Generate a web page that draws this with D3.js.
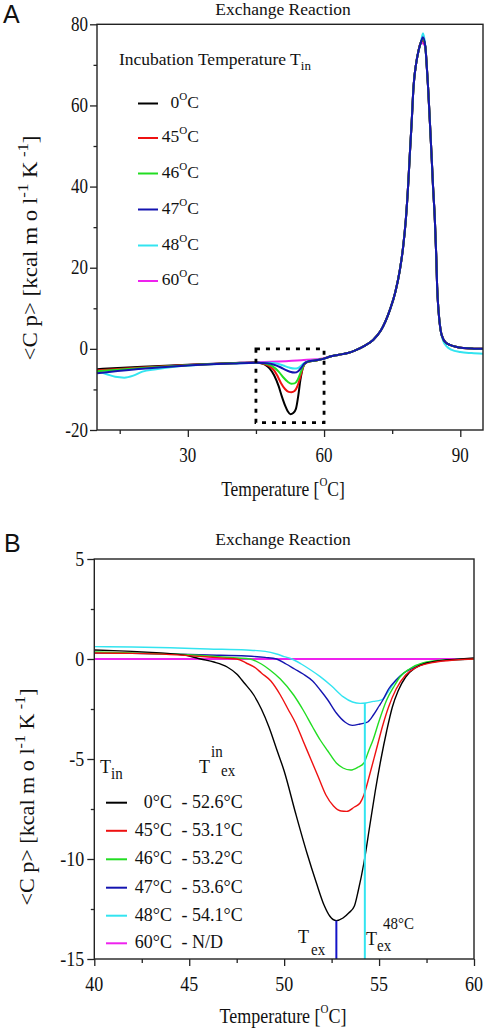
<!DOCTYPE html>
<html><head><meta charset="utf-8">
<script src="https://cdn.jsdelivr.net/npm/d3@7"></script>
<style>html,body{margin:0;padding:0;background:#fff;}svg{display:block;}</style>
</head><body>
<svg id="c" width="485" height="1030"></svg>
<script>
// ---------- DATA ----------
const seriesNames = ["0°C", "45°C", "46°C", "47°C", "48°C", "60°C"];
const seriesColors = ["#000000", "#ee1111", "#22dd22", "#1414b0", "#33e4f0", "#ee22ee"];
const texValues = ["- 52.6°C", "- 53.1°C", "- 53.2°C", "- 53.6°C", "- 54.1°C", "- N/D"];

// Panel A  (x: temperature °C, y: <Cp>)
const aLow = {
  black:   [[10,-5.0],[20,-4.4],[30,-3.9],[40,-3.5],[45,-3.35]],
  red:     [[10,-5.3],[20,-4.6],[30,-4.0],[40,-3.55],[45,-3.4]],
  green:   [[10,-5.5],[20,-4.7],[30,-4.05],[40,-3.55],[45,-3.4]],
  blue:    [[10,-6.0],[20,-4.9],[30,-4.1],[40,-3.6],[45,-3.4]],
  cyan:    [[10,-5.6],[12,-6.2],[14,-6.9],[16,-7.1],[18,-6.6],[20,-5.6],[23,-5.0],[30,-4.1],[40,-3.6],[45,-3.4]],
  magenta: [[10,-5.3],[20,-4.7],[30,-4.0],[40,-3.5],[45,-3.3]]
};
const aDip = {
  black:   [[46,-3.5],[47,-3.9],[48,-4.8],[49,-6.5],[50,-9.2],[50.7,-11.7],[51.5,-14.2],[52,-15.4],[52.6,-16.1],[53.2,-15.8],[53.8,-14.8],[54.3,-11.7],[54.8,-7.6],[55.4,-4.4],[56,-3.4],[57,-3.05],[58.5,-2.8],[60,-2.4]],
  red:     [[46.5,-3.6],[48,-4.3],[49,-5.3],[49.6,-6.4],[50.5,-8.4],[51.4,-9.9],[52.2,-10.6],[52.8,-10.7],[53.5,-10.4],[54.2,-9.0],[54.8,-6.8],[55.4,-4.5],[56,-3.4],[57,-3.05],[58.5,-2.8],[60,-2.4]],
  green:   [[47,-3.6],[48.5,-4.2],[50,-5.6],[51,-7.0],[52,-8.1],[52.8,-8.6],[53.5,-8.5],[54.2,-7.6],[54.8,-6.0],[55.4,-4.3],[56,-3.35],[57,-3.05],[58.5,-2.8],[60,-2.4]],
  blue:    [[47.5,-3.55],[49,-3.9],[50.5,-4.6],[51.5,-5.2],[52.5,-5.65],[53.5,-5.85],[54.3,-5.5],[55,-4.6],[55.6,-3.7],[56.3,-3.2],[57.3,-2.95],[58.5,-2.75],[60,-2.4]],
  cyan:    [[48,-3.4],[49.5,-3.6],[51,-4.1],[52.3,-4.6],[53.5,-4.85],[54.3,-4.7],[55,-4.1],[55.7,-3.4],[56.5,-3.05],[57.5,-2.9],[58.5,-2.7],[60,-2.4]],
  magenta: [[50,-3.1],[55,-2.8],[60,-2.3]]
};
const aRise = [[61.3,-1.9],[63,-1.5],[65,-1.1],[67,-0.3],[69,0.8],[70.8,2.2],[72.5,4.5],[74.5,9.6],[75.7,14],[76.7,19.5],[77.4,25],[78,31.8],[78.5,40],[78.9,48.2],[79.3,56],[79.7,64.6],[80.3,70.5],[80.8,73.5],[81.3,75.5]];
const aPeak = { black: 76.3, red: 76.0, green: 76.5, blue: 76.8, cyan: 77.8, magenta: 75.3 };
const aFall = [[82.3,74.5],[82.6,70],[82.9,64.6],[83.3,56],[83.65,48.2],[84,40],[84.4,31.8],[84.7,23],[84.9,15.4],[85.2,9.5],[85.65,4.7]];
const aTail = [[86.3,2.3],[87,1.4],[87.7,1.0],[89,0.5],[90.6,0.2],[93,0.05],[95,0]];
const aTailCyan = [[86.3,1.8],[87,0.6],[88,-0.2],[90,-0.8],[92.5,-1.05],[95,-1.2]];
const aBox = [45, 60, 0, -18.2]; // dashed highlight region: x0,x1,y0,y1

// Panel B
const bData = {
  black: [[40,0.45],[41,0.42],[42,0.38],[43,0.33],[44,0.27],[45,0.15],[45.6,0],[46.3,-0.15],[47,-0.4],[47.5,-0.75],[47.9,-1.2],[48.4,-1.8],[48.8,-2.5],[49.2,-3.4],[49.6,-4.5],[50,-5.6],[50.6,-7.7],[51.2,-9.7],[51.7,-11.2],[52.1,-12.3],[52.4,-12.85],[52.75,-13.08],[53.1,-12.95],[53.4,-12.7],[53.7,-12.35],[53.9,-11.6],[54.2,-10.2],[54.5,-8.4],[54.8,-6.6],[55.1,-5.0],[55.4,-3.6],[55.7,-2.4],[56,-1.6],[56.4,-0.9],[56.9,-0.45],[57.5,-0.2],[58.5,-0.05],[59.3,0],[60,0.05]],
  red: [[40,0.3],[42,0.28],[44,0.22],[46,0.1],[47,0.03],[47.5,0],[48,-0.2],[48.5,-0.45],[48.8,-0.7],[49.3,-1.1],[49.8,-1.8],[50.2,-2.5],[50.6,-3.2],[51.0,-4.1],[51.4,-5.0],[51.8,-5.9],[52.2,-6.8],[52.6,-7.35],[53.0,-7.6],[53.3,-7.62],[53.7,-7.4],[54.0,-7.2],[54.2,-6.8],[54.5,-5.8],[54.85,-4.55],[55.2,-3.3],[55.5,-2.4],[55.9,-1.5],[56.4,-0.8],[57,-0.4],[58,-0.15],[59,-0.05],[60,0]],
  green: [[40,0.35],[42,0.3],[44,0.25],[46,0.15],[47.5,0.05],[48.2,0],[48.8,-0.25],[49.25,-0.55],[49.8,-1.0],[50.5,-1.8],[51.0,-2.55],[51.5,-3.4],[51.9,-4.05],[52.3,-4.6],[52.75,-5.2],[53.1,-5.45],[53.5,-5.55],[53.9,-5.4],[54.2,-5.2],[54.45,-4.6],[54.7,-4.0],[55.0,-3.1],[55.4,-2.05],[55.8,-1.35],[56.1,-0.9],[56.6,-0.5],[57.3,-0.2],[58.5,-0.05],[60,0]],
  blue: [[40,0.3],[42,0.28],[44,0.25],[46,0.2],[48,0.15],[49,0.08],[49.6,0],[50.1,-0.25],[50.55,-0.5],[51.0,-0.75],[51.5,-1.1],[51.9,-1.55],[52.3,-2.05],[52.75,-2.7],[53.2,-3.15],[53.6,-3.32],[54.0,-3.25],[54.4,-3.15],[54.7,-2.8],[55.0,-2.35],[55.2,-2.05],[55.5,-1.5],[55.9,-1.05],[56.3,-0.7],[56.8,-0.45],[57.5,-0.2],[58.5,-0.07],[60,0]],
  cyan: [[40,0.62],[42,0.6],[44,0.56],[46,0.5],[48,0.45],[49,0.38],[49.6,0.25],[50.0,0.12],[50.4,0],[50.9,-0.25],[51.4,-0.55],[51.9,-0.88],[52.5,-1.35],[53.1,-1.88],[53.6,-2.15],[54.0,-2.22],[54.3,-2.2],[54.7,-2.12],[55.0,-2.08],[55.2,-2.0],[55.5,-1.6],[55.9,-1.05],[56.3,-0.7],[56.8,-0.4],[57.4,-0.2],[58,-0.1],[59,-0.03],[60,0]],
  magenta: [[40,0],[60,0]]
};
const bMarkers = [{t:52.75, top:-13.08, c:"#1414c8"}, {t:54.25, top:-2.2, c:"#33e4f0"}];

const aXTicks = [30, 60, 90], aXMinor = [15, 45, 75];
const aYTicks = [-20, 0, 20, 40, 60, 80], aYMinor = [-10, 10, 30, 50, 70];
const bXTicks = [40, 45, 50, 55, 60], bXMinor = [42.5, 47.5, 52.5, 57.5];
const bYTicks = [-15, -10, -5, 0, 5], bYMinor = [-12.5, -7.5, -2.5, 2.5];

const keys = ["black","red","green","blue","cyan","magenta"];
const drawOrder = ["magenta","cyan","black","red","green","blue"];
const drawOrderB = ["magenta","cyan","blue","green","black","red"];

// ---------- HELPERS ----------
const svg = d3.select("#c");
const SERIF = "Liberation Serif, Times New Roman, serif";
function stext(x, y, parts, size, anchor, sy, rot) {
  sy = sy || 1;
  const tr = rot ? `translate(${x},${y}) rotate(-90) scale(${sy},1)` : `translate(${x},${y}) scale(1,${sy})`;
  const t = svg.append("g").attr("transform", tr).append("text")
    .attr("font-family", SERIF).attr("font-size", size).attr("text-anchor", anchor || "start").attr("fill", "#111");
  let cur = 0;
  parts.forEach(p => {
    if (typeof p === "string") p = {t: p};
    const off = p.sup ? -(p.off || size * 0.42) : p.sub ? (p.off || size * 0.3) : 0;
    const ts = t.append("tspan").attr("dy", off - cur).text(p.t);
    if (p.sup || p.sub) ts.attr("font-size", p.size || size * 0.7);
    cur = off;
  });
  return t;
}
function colorOf(k) { return seriesColors[keys.indexOf(k)]; }

// ---------- PANEL A ----------
const A = {l: 97, r: 483, t: 24.3, b: 430};
const xA = d3.scaleLinear().domain([10, 95]).range([A.l, A.r]);
const yA = d3.scaleLinear().domain([-20, 80]).range([A.b, A.t]);
const lineA = d3.line().x(d => xA(d[0])).y(d => yA(d[1])).curve(d3.curveMonotoneX);

const gA = svg.append("g");
drawOrder.forEach(k => {
  const tail = k === "cyan" ? aTailCyan : aTail;
  const pts = [...aLow[k], ...aDip[k], ...aRise, [81.8, aPeak[k]], ...aFall, ...tail];
  gA.append("path").attr("d", lineA(pts)).attr("fill", "none")
    .attr("stroke", colorOf(k)).attr("stroke-width", 2);
});
// dashed box
gA.append("rect").attr("x", xA(aBox[0])).attr("y", yA(aBox[2]))
  .attr("width", xA(aBox[1]) - xA(aBox[0])).attr("height", yA(aBox[3]) - yA(aBox[2]))
  .attr("fill", "none").attr("stroke", "#000").attr("stroke-width", 2.8).attr("stroke-dasharray", "4,6");

function axes(g, x, y, P, xt, xm, yt, ym) {
  const st = (sel) => { sel.select(".domain").remove(); sel.selectAll("line").attr("stroke", "#222").attr("stroke-width", 1.3); };
  g.append("g").attr("transform", `translate(0,${P.b})`).call(d3.axisBottom(x).tickValues(xt).tickSize(7).tickFormat("")).call(st);
  g.append("g").attr("transform", `translate(0,${P.b})`).call(d3.axisBottom(x).tickValues(xm).tickSize(4).tickFormat("")).call(st);
  g.append("g").attr("transform", `translate(${P.l},0)`).call(d3.axisLeft(y).tickValues(yt).tickSize(7).tickFormat("")).call(st);
  g.append("g").attr("transform", `translate(${P.l},0)`).call(d3.axisLeft(y).tickValues(ym).tickSize(3.5).tickFormat("")).call(st);
  g.append("rect").attr("x", P.l).attr("y", P.t).attr("width", P.r - P.l).attr("height", P.b - P.t)
    .attr("fill", "none").attr("stroke", "#222").attr("stroke-width", 1.4);
}
axes(gA, xA, yA, A, aXTicks, aXMinor, aYTicks, aYMinor);
aXTicks.forEach(v => stext(xA(v), A.b + 32, [String(v)], 17, "middle", 1.18));
aYTicks.forEach(v => stext(A.l - 9, yA(v) + 6.5, [String(v)], 17, "end", 1.18));

stext(283, 15, ["Exchange Reaction"], 17.5, "middle");
svg.append("text").attr("x", 3).attr("y", 23).attr("font-family", "Liberation Sans, Arial, sans-serif").attr("font-size", 25).attr("fill", "#111").text("A");
stext(283, 496, ["Temperature  [", {t:"O", sup:true, size:11, off:8}, "C]"], 17.5, "middle", 1.2);
stext(37, 248, ["<C p>  [kcal m o l", {t:"-1", sup:true, size:15}, " K", {t:" -1", sup:true, size:15}, "]"], 20.5, "middle", 1.12, true);

// Legend A
stext(119, 65, ["Incubation Temperature T", {t:"in", sub:true, size:13, off:5}], 17.5, "start");
const legAy = [103.5, 138, 173.5, 209.5, 245.5, 281];
keys.forEach((k, i) => {
  svg.append("line").attr("x1", 138).attr("x2", 158).attr("y1", legAy[i]).attr("y2", legAy[i])
    .attr("stroke", seriesColors[i]).attr("stroke-width", 2);
  const num = seriesNames[i].replace("°C", "");
  stext(199, legAy[i] + 4, [num, {t:"O", sup:true, size:11, off:8}, "C"], 17.5, "end");
});

// ---------- PANEL B ----------
const B = {l: 94.3, r: 474, t: 559, b: 959};
const xB = d3.scaleLinear().domain([40, 60]).range([B.l, B.r]);
const yB = d3.scaleLinear().domain([-15, 5]).range([B.b, B.t]);
const lineB = d3.line().x(d => xB(d[0])).y(d => yB(d[1])).curve(d3.curveMonotoneX);
const gB = svg.append("g");
drawOrderB.forEach(k => {
  gB.append("path").attr("d", lineB(bData[k])).attr("fill", "none")
    .attr("stroke", colorOf(k)).attr("stroke-width", k === "magenta" ? 2 : 1.4);
});
bMarkers.forEach(m => {
  gB.append("line").attr("x1", xB(m.t)).attr("x2", xB(m.t)).attr("y1", yB(m.top)).attr("y2", yB(-15))
    .attr("stroke", m.c).attr("stroke-width", 2);
});
axes(gB, xB, yB, B, bXTicks, bXMinor, bYTicks, bYMinor);
bXTicks.forEach(v => stext(xB(v), B.b + 32, [String(v)], 18, "middle", 1.2));
bYTicks.forEach(v => stext(B.l - 10, yB(v) + 7, [String(v)], 18, "end", 1.2));

stext(283, 545, ["Exchange Reaction"], 17.5, "middle");
svg.append("text").attr("x", 4).attr("y", 552).attr("font-family", "Liberation Sans, Arial, sans-serif").attr("font-size", 25).attr("fill", "#111").text("B");
stext(283, 1023, ["Temperature [", {t:"O", sup:true, size:11, off:8}, "C]"], 18, "middle", 1.2);
stext(34, 797, ["<C p>  [kcal m o l", {t:"-1", sup:true, size:15}, " K", {t:" -1", sup:true, size:15}, "]"], 20.5, "middle", 1.08, true);

// Legend B
stext(100, 773, ["T", {t:"in", sub:true, size:15, off:5}], 18, "start", 1.1);
stext(199, 773, ["T"], 18, "start", 1.1);
stext(211, 757, ["in"], 15, "start", 1.1);
stext(221, 776, ["ex"], 15, "start", 1.1);
const legBy = [802.7, 830.8, 859.3, 887.7, 915.7, 943.3];
keys.forEach((k, i) => {
  svg.append("line").attr("x1", 106).attr("x2", 127).attr("y1", legBy[i]).attr("y2", legBy[i])
    .attr("stroke", seriesColors[i]).attr("stroke-width", 2);
  stext(172, legBy[i] + 5, [seriesNames[i]], 18, "end", 1.1);
  stext(181.5, legBy[i] + 5, [texValues[i]], 18, "start", 1.1);
});
// T_ex annotations
stext(298, 943, ["T"], 18, "start", 1.1);
stext(311, 955, ["ex"], 15, "start", 1.1);
stext(366, 945, ["T"], 18, "start", 1.1);
stext(377, 951, ["ex"], 15, "start", 1.1);
stext(383, 929, ["48°C"], 15, "start", 1.15);
</script>
</body></html>
